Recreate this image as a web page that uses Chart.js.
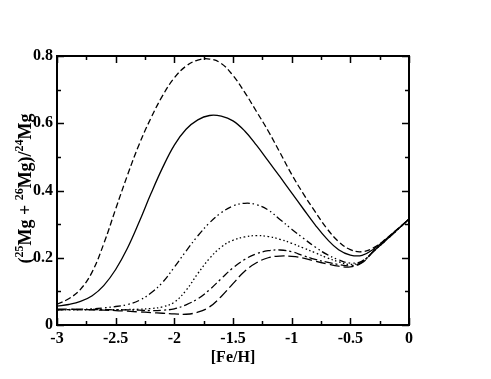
<!DOCTYPE html>
<html>
<head>
<meta charset="utf-8">
<script src="https://cdn.jsdelivr.net/npm/chart.js@4"></script>
<style>
  html, body { margin: 0; padding: 0; background: #fff; }
  #wrap { width: 491px; height: 379px; }
</style>
</head>
<body>
<div id="wrap"><canvas id="chart" width="491" height="379"></canvas></div>
<script>
// [Fe/H] grid the curves were read on
const feh = [-3, -2.9, -2.8, -2.7, -2.6, -2.5, -2.4, -2.3, -2.2, -2.1, -2, -1.9, -1.8, -1.7, -1.6, -1.5,
  -1.4, -1.3, -1.2, -1.1, -1, -0.9, -0.8, -0.7, -0.6, -0.5, -0.4, -0.3, -0.2, -0.1, 0];

const solid = [0.056, 0.061, 0.07, 0.087, 0.118, 0.165, 0.228, 0.306, 0.39, 0.468, 0.535, 0.582, 0.61, 0.623, 0.621, 0.607,
  0.577, 0.535, 0.488, 0.441, 0.393, 0.345, 0.298, 0.256, 0.224, 0.208, 0.207, 0.226, 0.254, 0.284, 0.315];
const dashed = [0.062, 0.078, 0.106, 0.158, 0.243, 0.345, 0.445, 0.537, 0.615, 0.682, 0.735, 0.77, 0.788, 0.791, 0.778, 0.742,
  0.692, 0.635, 0.577, 0.513, 0.448, 0.39, 0.337, 0.287, 0.248, 0.224, 0.218, 0.23, 0.255, 0.285, 0.315];
const dashDotDot = [0.045, 0.046, 0.047, 0.048, 0.051, 0.055, 0.061, 0.073, 0.095, 0.127, 0.172, 0.22, 0.265, 0.304, 0.334, 0.354,
  0.362, 0.358, 0.342, 0.314, 0.285, 0.258, 0.232, 0.21, 0.194, 0.184, 0.19, 0.22, 0.251, 0.283, 0.315];
const dotted = [0.045, 0.045, 0.045, 0.046, 0.046, 0.046, 0.046, 0.047, 0.049, 0.054, 0.068, 0.103, 0.153, 0.198, 0.232, 0.252,
  0.262, 0.266, 0.263, 0.255, 0.243, 0.229, 0.215, 0.2, 0.188, 0.18, 0.189, 0.22, 0.251, 0.283, 0.315];
const dashDot = [0.045, 0.046, 0.046, 0.046, 0.046, 0.045, 0.045, 0.044, 0.043, 0.044, 0.048, 0.06, 0.078, 0.105, 0.138, 0.17,
  0.195, 0.212, 0.221, 0.223, 0.218, 0.206, 0.195, 0.187, 0.18, 0.176, 0.187, 0.22, 0.251, 0.283, 0.315];
const longDash = [0.047, 0.047, 0.046, 0.045, 0.044, 0.043, 0.041, 0.039, 0.037, 0.035, 0.033, 0.032, 0.038, 0.054, 0.085, 0.123,
  0.16, 0.185, 0.2, 0.205, 0.204, 0.199, 0.19, 0.182, 0.175, 0.173, 0.185, 0.22, 0.251, 0.283, 0.315];

const xTicks = ["-3", "-2.5", "-2", "-1.5", "-1", "-0.5", "0"];
const yTicks = ["0", "0.2", "0.4", "0.6", "0.8"];

const FONT = "'Liberation Serif', 'Times New Roman', serif";

function pts(ys) {
  return ys.map((y, i) => ({ x: feh[i], y: y }));
}

function line(data, dash) {
  return {
    data: pts(data),
    borderColor: "#000",
    borderWidth: 1.3,
    borderDash: dash,
    pointRadius: 0,
    fill: false,
    tension: 0.4,
  };
}

// frame, inward ticks on all four sides, axis titles
const framePlugin = {
  id: "frame",
  afterDraw(chart) {
    const ctx = chart.ctx;
    const a = chart.chartArea;
    const xs = chart.scales.x;
    const ys = chart.scales.y;
    ctx.save();
    ctx.strokeStyle = "#000";
    ctx.lineWidth = 2;
    ctx.strokeRect(a.left, a.top, a.right - a.left, a.bottom - a.top);

    ctx.lineWidth = 1.5;
    ctx.beginPath();
    xs.ticks.forEach((t, i) => {
      const px = Math.round(xs.getPixelForValue(t.value)) + 0.5;
      const len = i % 2 === 0 ? 7 : 4;
      ctx.moveTo(px, a.bottom);
      ctx.lineTo(px, a.bottom - len);
      ctx.moveTo(px, a.top);
      ctx.lineTo(px, a.top + len);
    });
    ys.ticks.forEach((t, i) => {
      const py = Math.round(ys.getPixelForValue(t.value)) + 0.5;
      const len = i % 2 === 0 ? 7 : 4;
      ctx.moveTo(a.left, py);
      ctx.lineTo(a.left + len, py);
      ctx.moveTo(a.right, py);
      ctx.lineTo(a.right - len, py);
    });
    ctx.stroke();

    ctx.fillStyle = "#000";
    ctx.textBaseline = "alphabetic";
    ctx.textAlign = "center";
    ctx.font = "bold 16px " + FONT;
    ctx.fillText("[Fe/H]", (a.left + a.right) / 2, 362);

    // y title with superscripts, written upward
    const parts = [
      ["(", false], ["25", true], ["Mg + ", false], ["26", true], ["Mg)/", false], ["24", true], ["Mg", false],
    ];
    const big = "bold 18px " + FONT;
    const small = "bold 12px " + FONT;
    let total = 0;
    parts.forEach(p => {
      ctx.font = p[1] ? small : big;
      total += ctx.measureText(p[0]).width;
    });
    ctx.translate(31, (a.top + a.bottom) / 2 - 2);
    ctx.rotate(-Math.PI / 2);
    ctx.textAlign = "left";
    let x = -total / 2;
    parts.forEach(p => {
      ctx.font = p[1] ? small : big;
      ctx.fillText(p[0], x, p[1] ? -8 : 0);
      x += ctx.measureText(p[0]).width;
    });
    ctx.restore();
  },
};

new Chart(document.getElementById("chart").getContext("2d"), {
  type: "line",
  data: {
    datasets: [
      line(dashed, [6, 3]),
      line(solid, []),
      line(dashDotDot, [7, 3, 1.5, 3, 1.5, 3]),
      line(dotted, [1.5, 2.5]),
      line(dashDot, [8, 3, 2, 3]),
      line(longDash, [10, 4]),
    ],
  },
  options: {
    responsive: false,
    animation: false,
    layout: { padding: { left: 0, right: 82, top: 56, bottom: 0 } },
    plugins: { legend: { display: false }, tooltip: { enabled: false } },
    scales: {
      x: {
        type: "linear",
        min: -3,
        max: 0,
        grid: { display: false, drawTicks: false },
        border: { display: false },
        afterFit: (s) => { s.height = 54; },
        ticks: {
          stepSize: 0.25,
          autoSkip: false,
          maxRotation: 0,
          padding: 4,
          color: "#000",
          font: { family: FONT, size: 16, weight: "bold" },
          callback: (v, i) => (i % 2 === 0 ? xTicks[i / 2] : ""),
        },
      },
      y: {
        min: 0,
        max: 0.8,
        grid: { display: false, drawTicks: false },
        border: { display: false },
        afterFit: (s) => { s.width = 57; },
        ticks: {
          stepSize: 0.1,
          autoSkip: false,
          padding: 4,
          color: "#000",
          font: { family: FONT, size: 16, weight: "bold" },
          callback: (v, i) => (i % 2 === 0 ? yTicks[i / 2] : ""),
        },
      },
    },
  },
  plugins: [framePlugin],
});
</script>
</body>
</html>
